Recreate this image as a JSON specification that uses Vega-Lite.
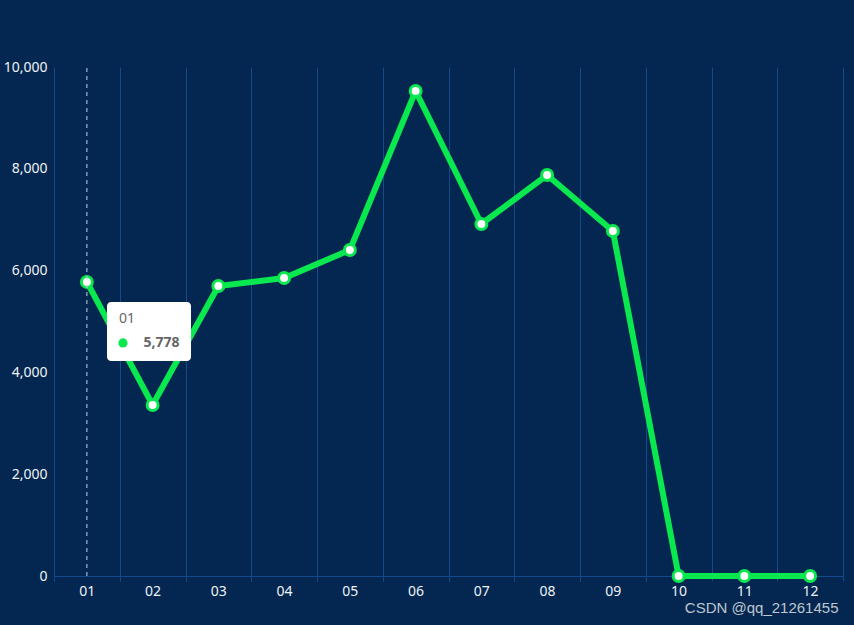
{
  "$schema": "https://vega.github.io/schema/vega-lite/v6.json",
  "width": 789,
  "height": 509,
  "autosize": {"type": "none"},
  "padding": {"left": 54, "top": 67, "right": 11, "bottom": 49},
  "background": "#032750",
  "config": {
    "view": {"stroke": null},
    "font": "Noto Sans",
    "title": {"font": "Liberation Sans"}
  },
  "title": {
    "text": "CSDN @qq_21261455",
    "orient": "bottom",
    "anchor": "end",
    "fontSize": 15,
    "fontWeight": "normal",
    "color": "#bfc5cf",
    "offset": 3,
    "dx": -5
  },
  "datasets": {
    "series": [
      {"month": "01", "value": 5778},
      {"month": "02", "value": 3360},
      {"month": "03", "value": 5697},
      {"month": "04", "value": 5855},
      {"month": "05", "value": 6405},
      {"month": "06", "value": 9528},
      {"month": "07", "value": 6916},
      {"month": "08", "value": 7878},
      {"month": "09", "value": 6778},
      {"month": "10", "value": 0},
      {"month": "11", "value": 0},
      {"month": "12", "value": 0}
    ],
    "pointer": [{"month": "01", "y": 0, "y2": 10000}],
    "box": [{"x": 0.806, "x2": 2.084, "y": 5383, "y2": 4224}],
    "tipTitle": [{"x": 0.99, "y": 5049, "label": "01"}],
    "tipDot": [{"x": 1.049, "y": 4578}],
    "tipValue": [{"x": 1.36, "y": 4578, "label": "5,778"}]
  },
  "layer": [
    {
      "layer": [
        {
          "data": {"name": "series"},
          "mark": {"type": "line", "color": "#0ae84f", "strokeWidth": 6},
          "encoding": {
            "x": {
              "field": "month", "type": "nominal",
              "scale": {"domain": ["01","02","03","04","05","06","07","08","09","10","11","12"], "paddingInner": 0, "paddingOuter": 0},
              "axis": {
                "title": null,
                "labelAngle": 0,
                "labelColor": "#eef2f7",
                "labelFontSize": 14,
                "labelPadding": 3,
                "domainColor": "#134a8e",
                "domainWidth": 1,
                "ticks": true,
                "tickBand": "extent",
                "tickColor": "#134a8e",
                "tickSize": 5,
                "grid": true,
                "gridColor": "#134a8e",
                "gridWidth": 1
              }
            },
            "y": {
              "field": "value", "type": "quantitative",
              "scale": {"domain": [0, 10000], "nice": false},
              "axis": {"title": null, "values": [0, 2000, 4000, 6000, 8000, 10000], "format": ",.0f", "domain": false, "ticks": false, "grid": false, "labelColor": "#eef2f7", "labelFontSize": 14, "labelPadding": 7}
            }
          }
        },
        {
          "data": {"name": "series"},
          "mark": {"type": "point", "filled": false, "fill": "#ffffff", "fillOpacity": 1, "stroke": "#0ae84f", "strokeWidth": 3, "size": 120, "opacity": 1},
          "encoding": {
            "x": {"field": "month", "type": "nominal"},
            "y": {"field": "value", "type": "quantitative", "axis": {"title": null, "values": [0, 2000, 4000, 6000, 8000, 10000], "format": ",.0f", "domain": false, "ticks": false, "grid": false, "labelColor": "#eef2f7", "labelFontSize": 14, "labelPadding": 7}}
          }
        },
        {
          "data": {"name": "pointer"},
          "mark": {"type": "rule", "color": "#c9d3e0", "strokeDash": [4, 4], "strokeWidth": 1},
          "encoding": {
            "x": {"field": "month", "type": "nominal"},
            "y": {"field": "y", "type": "quantitative", "axis": {"title": null, "values": [0, 2000, 4000, 6000, 8000, 10000], "format": ",.0f", "domain": false, "ticks": false, "grid": false, "labelColor": "#eef2f7", "labelFontSize": 14, "labelPadding": 7}},
            "y2": {"field": "y2"}
          }
        }
      ]
    },
    {
      "layer": [
        {
          "data": {"name": "box"},
          "mark": {"type": "rect", "fill": "#ffffff", "cornerRadius": 4},
          "encoding": {
            "x": {"field": "x", "type": "quantitative", "scale": {"domain": [0, 12], "nice": false, "zero": false}, "axis": null},
            "x2": {"field": "x2"},
            "y": {"field": "y", "type": "quantitative", "axis": {"title": null, "values": [0, 2000, 4000, 6000, 8000, 10000], "format": ",.0f", "domain": false, "ticks": false, "grid": false, "labelColor": "#eef2f7", "labelFontSize": 14, "labelPadding": 7}},
            "y2": {"field": "y2"}
          }
        },
        {
          "data": {"name": "tipTitle"},
          "mark": {"type": "text", "align": "left", "baseline": "middle", "color": "#666666", "fontSize": 14},
          "encoding": {
            "x": {"field": "x", "type": "quantitative", "axis": null},
            "y": {"field": "y", "type": "quantitative", "axis": {"title": null, "values": [0, 2000, 4000, 6000, 8000, 10000], "format": ",.0f", "domain": false, "ticks": false, "grid": false, "labelColor": "#eef2f7", "labelFontSize": 14, "labelPadding": 7}},
            "text": {"field": "label"}
          }
        },
        {
          "data": {"name": "tipDot"},
          "mark": {"type": "circle", "color": "#0ae84f", "opacity": 1, "size": 85},
          "encoding": {
            "x": {"field": "x", "type": "quantitative", "axis": null},
            "y": {"field": "y", "type": "quantitative", "axis": {"title": null, "values": [0, 2000, 4000, 6000, 8000, 10000], "format": ",.0f", "domain": false, "ticks": false, "grid": false, "labelColor": "#eef2f7", "labelFontSize": 14, "labelPadding": 7}}
          }
        },
        {
          "data": {"name": "tipValue"},
          "mark": {"type": "text", "align": "left", "baseline": "middle", "color": "#666666", "fontSize": 14, "fontWeight": "bold"},
          "encoding": {
            "x": {"field": "x", "type": "quantitative", "axis": null},
            "y": {"field": "y", "type": "quantitative", "axis": {"title": null, "values": [0, 2000, 4000, 6000, 8000, 10000], "format": ",.0f", "domain": false, "ticks": false, "grid": false, "labelColor": "#eef2f7", "labelFontSize": 14, "labelPadding": 7}},
            "text": {"field": "label"}
          }
        }
      ]
    }
  ],
  "resolve": {"scale": {"x": "independent"}}
}
